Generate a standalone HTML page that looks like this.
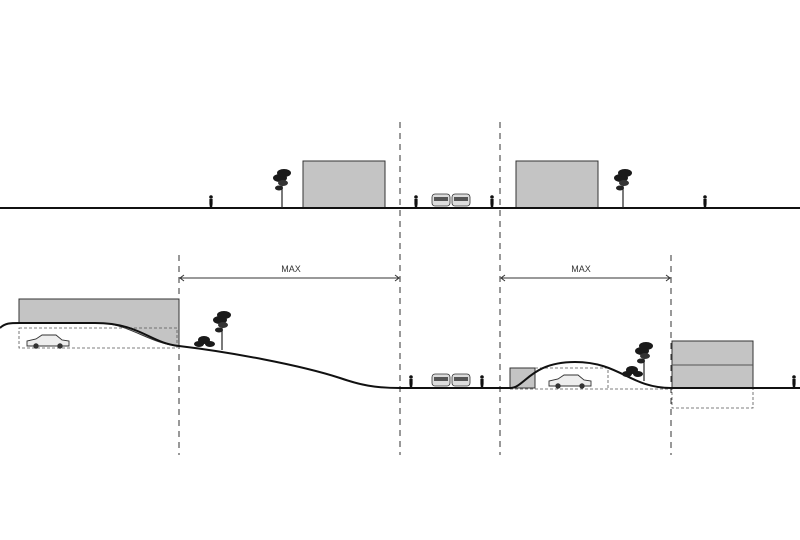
<!DOCTYPE html>
<html><head><meta charset="utf-8"><style>
html,body{margin:0;padding:0;background:#fff;width:800px;height:540px;overflow:hidden}
</style></head><body>
<svg width="800" height="540" viewBox="0 0 800 540" xmlns="http://www.w3.org/2000/svg" font-family="Liberation Sans, sans-serif">
<defs>
<g id="tree"><line x1="0" y1="0" x2="0" y2="-26" stroke="#222" stroke-width="1.2"/><ellipse cx="-2" cy="-30" rx="7" ry="4" fill="#1a1a1a"/><ellipse cx="2" cy="-35" rx="7" ry="4" fill="#1a1a1a"/><ellipse cx="1" cy="-25" rx="5" ry="3" fill="#333"/><ellipse cx="-3" cy="-20" rx="4" ry="2.5" fill="#222"/></g>
<g id="person"><circle cx="0" cy="-11" r="1.8" fill="#111"/><path d="M-1.6 -9 L1.6 -9 L1.6 -4 L1 0 L-1 0 L-1.6 -4 Z" fill="#111"/></g>
<g id="carF"><rect x="-9" y="-12" width="18" height="12" rx="3" fill="#ddd" stroke="#333" stroke-width="0.8"/><rect x="-7" y="-9" width="14" height="4" fill="#555"/></g>
<g id="carS"><path d="M-21 0 L-21 -5 L-12 -7 L-6 -11 L8 -11 L14 -6 L21 -5 L21 0 Z" fill="#eee" stroke="#333" stroke-width="0.9"/><circle cx="-12" cy="0" r="2.7" fill="#333"/><circle cx="12" cy="0" r="2.7" fill="#333"/></g>
</defs>
<g stroke="#333" stroke-width="1" stroke-dasharray="6,5" fill="none">
<line x1="400" y1="122" x2="400" y2="455"/>
<line x1="500" y1="122" x2="500" y2="455"/>
<line x1="179" y1="255" x2="179" y2="455"/>
<line x1="671" y1="255" x2="671" y2="455"/>
</g>
<rect x="303" y="161" width="82" height="47" fill="#c4c4c4" stroke="#333" stroke-width="1"/>
<rect x="516" y="161" width="82" height="47" fill="#c4c4c4" stroke="#333" stroke-width="1"/>
<line x1="0" y1="208" x2="800" y2="208" stroke="#111" stroke-width="2"/>
<use href="#tree" x="282" y="208"/>
<use href="#tree" x="623" y="208"/>
<use href="#person" x="211" y="208"/>
<use href="#person" x="416" y="208"/>
<use href="#person" x="492" y="208"/>
<use href="#person" x="705" y="208"/>
<use href="#carF" x="441" y="206"/>
<use href="#carF" x="461" y="206"/>
<g stroke="#333" stroke-width="1" fill="none">
<line x1="180" y1="278" x2="399" y2="278"/>
<path d="M184 275 L180 278 L184 281 M395 275 L399 278 L395 281"/>
<line x1="501" y1="278" x2="670" y2="278"/>
<path d="M505 275 L501 278 L505 281 M666 275 L670 278 L666 281"/>
</g>
<text x="291" y="272" font-size="9" text-anchor="middle" fill="#333">MAX</text>
<text x="581" y="272" font-size="9" text-anchor="middle" fill="#333">MAX</text>
<path d="M19 299 L179 299 L179 346 C150 344 130 324 100 323 L19 323 Z" fill="#c4c4c4" stroke="#333" stroke-width="1"/>
<rect x="19" y="328" width="158" height="20" fill="none" stroke="#555" stroke-width="0.8" stroke-dasharray="3,2"/>
<use href="#carS" x="48" y="346"/>
<rect x="510" y="368" width="25" height="20" fill="#c4c4c4" stroke="#333" stroke-width="1"/>
<path d="M535 368 L608 368 L608 388 M510 389 L671 389" fill="none" stroke="#555" stroke-width="0.8" stroke-dasharray="3,2"/>
<use href="#carS" x="570" y="386"/>
<rect x="672" y="341" width="81" height="47" fill="#c4c4c4" stroke="#333" stroke-width="1"/>
<line x1="672" y1="365" x2="753" y2="365" stroke="#555" stroke-width="1"/>
<rect x="672" y="388" width="81" height="20" fill="none" stroke="#555" stroke-width="0.8" stroke-dasharray="3,2"/>
<path d="M0 328 C5 323 10 323 20 323 L95 323 C140 323 150 343 179 346 C230 352 300 365 340 378 C360 385 375 388 400 388 L510 388 C525 388 530 362 575 362 C620 362 630 388 671 388 L800 388" fill="none" stroke="#111" stroke-width="2"/>
<use href="#tree" x="222" y="350"/>
<g transform="translate(204,346)"><ellipse cx="0" cy="-6" rx="6" ry="4" fill="#1a1a1a"/><ellipse cx="-5" cy="-2" rx="5" ry="3" fill="#1a1a1a"/><ellipse cx="6" cy="-2" rx="5" ry="3" fill="#1a1a1a"/></g>
<use href="#tree" x="644" y="381"/>
<g transform="translate(632,376)"><ellipse cx="0" cy="-6" rx="6" ry="4" fill="#1a1a1a"/><ellipse cx="-5" cy="-2" rx="5" ry="3" fill="#1a1a1a"/><ellipse cx="6" cy="-2" rx="5" ry="3" fill="#1a1a1a"/></g>
<use href="#person" x="411" y="388"/>
<use href="#person" x="482" y="388"/>
<use href="#person" x="794" y="388"/>
<use href="#carF" x="441" y="386"/>
<use href="#carF" x="461" y="386"/>
</svg>
</body></html>
